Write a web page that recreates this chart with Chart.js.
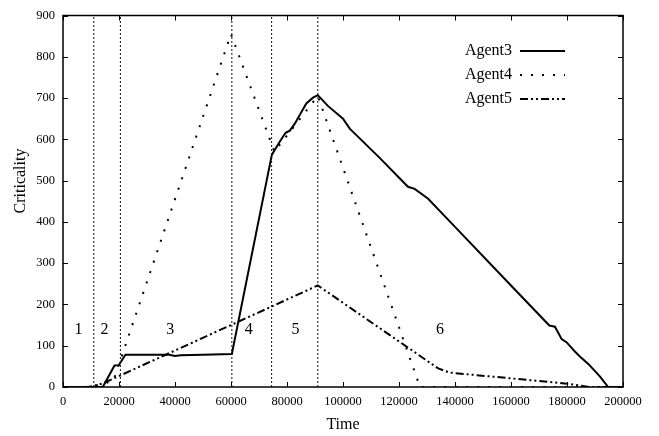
<!DOCTYPE html>
<html>
<head>
<meta charset="utf-8">
<script src="https://cdn.jsdelivr.net/npm/chart.js@4"></script>
<style>
  body { margin: 0; background: #fff; }
  #wrap { width: 659px; height: 436px; }
</style>
</head>
<body>
<div id="wrap"><canvas id="criticalityChart" width="659" height="436"></canvas></div>
<script>
// data
const agent3Time = [0, 14200, 18400, 19950, 22300, 30000, 38000, 40000, 42000, 50000, 60300, 74600, 77400, 79500, 81000, 82800, 85200, 86900, 89300, 91000, 94600, 100000, 102400, 106600, 113100, 123200, 125600, 130400, 140000, 160000, 173700, 175700, 178100, 179900, 182800, 184600, 187600, 191800, 194700, 200000];
const agent3Crit = [0, 0, 52, 53, 78, 78, 78, 75, 77, 78, 80, 563, 594, 616, 621, 638, 667, 687, 701, 707, 681, 650, 626, 598, 555, 485, 480, 456, 388, 246, 149, 146, 116, 108, 86, 74, 56, 25, 0, 0];

const agent4Time = [0, 8000, 11000, 18000, 60000, 75500, 91000, 127500, 200000];
const agent4Crit = [0, 0, 2, 15, 855, 570, 705, 0, 0];

const agent5Time = [0, 9000, 14000, 91000, 134000, 138000, 180000, 188000, 200000];
const agent5Crit = [0, 0, 8, 246, 45, 35, 8, 0, 0];

const phaseBounds = [11000, 20500, 60300, 74500, 91000];
const phaseNames = ['1', '2', '3', '4', '5', '6'];
const phaseLabelTime = [5500, 14800, 38300, 66300, 83000, 134600];
const phaseLabelCrit = 139;

const xTicks = [0, 20000, 40000, 60000, 80000, 100000, 120000, 140000, 160000, 180000, 200000];
const yTicks = [0, 100, 200, 300, 400, 500, 600, 700, 800, 900];

const serif = '"Liberation Serif", "DejaVu Serif", serif';

function toPoints(xs, ys) {
  return xs.map((x, i) => ({ x: x, y: ys[i] }));
}

const agentSets = [
  { label: 'Agent3', data: toPoints(agent3Time, agent3Crit), borderColor: '#000', borderWidth: 2, borderDash: [] },
  { label: 'Agent4', data: toPoints(agent4Time, agent4Crit), borderColor: '#000', borderWidth: 2, borderDash: [2, 9] },
  { label: 'Agent5', data: toPoints(agent5Time, agent5Crit), borderColor: '#000', borderWidth: 2, borderDash: [8, 3, 2, 3, 2, 3] }
];

// phase separators as two-point datasets
const boundSets = phaseBounds.map((t) => ({
  label: '',
  data: [{ x: t, y: 0 }, { x: t, y: 900 }],
  borderColor: '#111',
  borderWidth: 1,
  borderDash: [2, 2]
}));

const extras = {
  id: 'extras',
  afterDraw(chart) {
    const ctx = chart.ctx;
    const area = chart.chartArea;
    const xs = chart.scales.x;
    const ys = chart.scales.y;

    ctx.save();
    // frame
    ctx.strokeStyle = '#000';
    ctx.lineWidth = 1.5;
    ctx.setLineDash([]);
    ctx.strokeRect(area.left, area.top, area.right - area.left, area.bottom - area.top);

    // inward ticks on all four sides
    ctx.lineWidth = 1;
    ctx.beginPath();
    xTicks.forEach((t) => {
      const px = Math.round(xs.getPixelForValue(t)) + 0.5;
      ctx.moveTo(px, area.bottom); ctx.lineTo(px, area.bottom - 5);
      ctx.moveTo(px, area.top); ctx.lineTo(px, area.top + 5);
    });
    yTicks.forEach((t) => {
      const py = Math.round(ys.getPixelForValue(t)) + 0.5;
      ctx.moveTo(area.left, py); ctx.lineTo(area.left + 5, py);
      ctx.moveTo(area.right, py); ctx.lineTo(area.right - 5, py);
    });
    ctx.stroke();

    // phase numbers
    ctx.fillStyle = '#000';
    ctx.font = '16px ' + serif;
    ctx.textAlign = 'center';
    ctx.textBaseline = 'middle';
    phaseNames.forEach((n, i) => {
      ctx.fillText(n, xs.getPixelForValue(phaseLabelTime[i]), ys.getPixelForValue(phaseLabelCrit));
    });

    // axis titles
    ctx.fillText('Time', (area.left + area.right) / 2, 425);
    ctx.save();
    ctx.translate(21, 181);
    ctx.rotate(-Math.PI / 2);
    ctx.fillText('Criticality', 0, 0);
    ctx.restore();

    // key, gnuplot style: text right aligned, sample on the right
    ctx.textAlign = 'right';
    agentSets.forEach((ds, i) => {
      const y = 51 + i * 24;
      ctx.fillStyle = '#000';
      ctx.fillText(ds.label, 512, y);
      ctx.strokeStyle = ds.borderColor;
      ctx.lineWidth = ds.borderWidth;
      ctx.setLineDash(ds.borderDash);
      ctx.beginPath();
      ctx.moveTo(520, y);
      ctx.lineTo(565, y);
      ctx.stroke();
    });
    ctx.restore();
  }
};

new Chart(document.getElementById('criticalityChart'), {
  type: 'line',
  data: {
    datasets: [...boundSets, ...agentSets].map((d) => Object.assign({
      fill: false,
      pointRadius: 0,
      tension: 0,
      borderCapStyle: 'butt'
    }, d))
  },
  options: {
    responsive: false,
    animation: false,
    layout: { padding: { left: 0, right: 36, top: 8, bottom: 0 } },
    plugins: {
      legend: { display: false },
      tooltip: { enabled: false }
    },
    scales: {
      x: {
        type: 'linear',
        min: 0,
        max: 200000,
        afterFit: (scale) => { scale.height = 49; },
        afterBuildTicks: (scale) => { scale.ticks = xTicks.map((v) => ({ value: v })); },
        grid: { display: false, drawTicks: false },
        border: { display: false },
        ticks: {
          padding: 7,
          color: '#000',
          font: { family: serif, size: 12.5 },
          maxRotation: 0,
          callback: (v) => String(v)
        }
      },
      y: {
        min: 0,
        max: 900,
        afterFit: (scale) => { scale.width = 63; },
        afterBuildTicks: (scale) => { scale.ticks = yTicks.map((v) => ({ value: v })); },
        grid: { display: false, drawTicks: false },
        border: { display: false },
        ticks: {
          padding: 8,
          color: '#000',
          font: { family: serif, size: 12.5 },
          callback: (v) => String(v)
        }
      }
    }
  },
  plugins: [extras]
});
</script>
</body>
</html>
